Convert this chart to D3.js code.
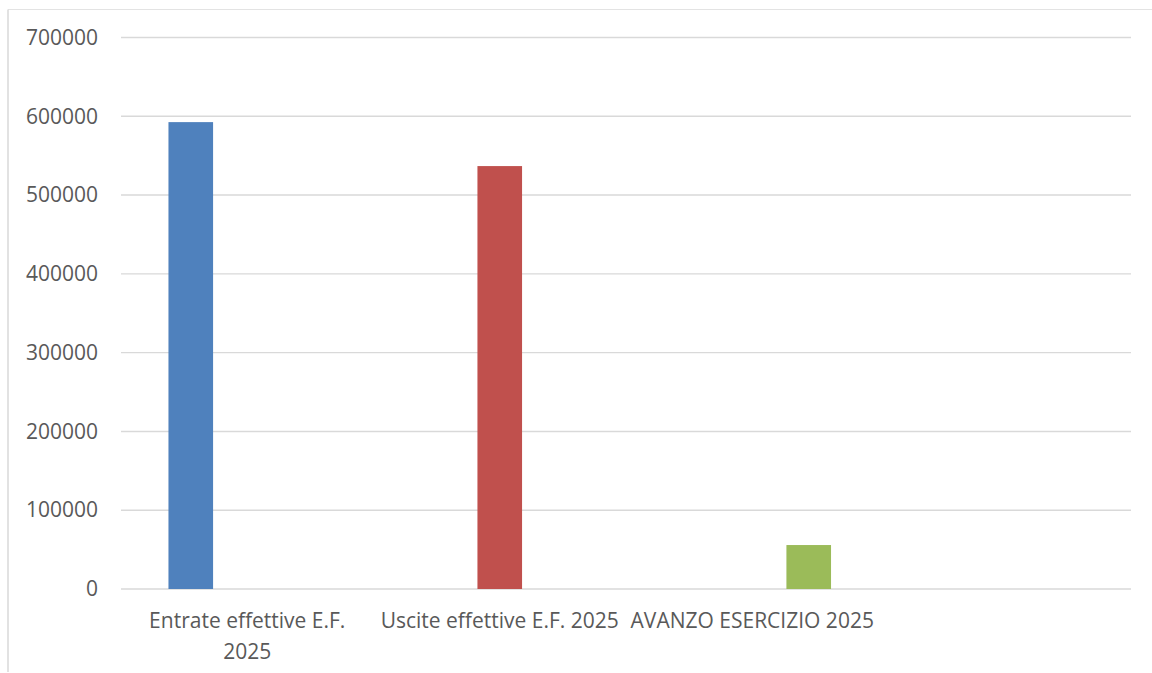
<!DOCTYPE html>
<html>
<head>
<meta charset="utf-8">
<script src="https://cdn.jsdelivr.net/npm/d3@7"></script>
<style>
  html, body { margin: 0; padding: 0; background: #fff; }
  svg { display: block; }
  text { font-family: "Open Sans", "Liberation Sans", Arial, sans-serif; fill: #595959; }
</style>
</head>
<body>
<svg id="chart" width="1152" height="673"></svg>
<script>
const categories = [
  ["Entrate effettive E.F.", "2025"],
  ["Uscite effettive E.F. 2025"],
  ["AVANZO ESERCIZIO 2025"],
  [""]
];
const seriesNames = ["Entrate", "Uscite", "Avanzo"];
const seriesColors = ["#4F81BD", "#C0504D", "#9BBB59"];
const entrateValues = [592600, null, null, null];
const usciteValues = [null, 536800, null, null];
const avanzoValues = [null, null, 55800, null];
const yTicks = [0, 100000, 200000, 300000, 400000, 500000, 600000, 700000];

const seriesValues = [entrateValues, usciteValues, avanzoValues];

const svg = d3.select("#chart");
const W = 1152, H = 673;
const plot = { left: 121, right: 1131, top: 37.5, bottom: 589 };
const FONT = "21px";

// chart frame
svg.append("line").attr("x1", 8).attr("x2", W).attr("y1", 9.5).attr("y2", 9.5)
  .attr("stroke", "#e3e3e3").attr("stroke-width", 1.2);
svg.append("line").attr("x1", 8).attr("x2", 8).attr("y1", 9.5).attr("y2", 672)
  .attr("stroke", "#d9d9d9").attr("stroke-width", 1.5);

const x0 = d3.scaleBand().domain(d3.range(categories.length))
  .range([plot.left, plot.right]).padding(0);
const groupW = x0.bandwidth() * 0.671;
const x1 = d3.scaleBand().domain(d3.range(seriesNames.length))
  .range([-groupW / 2, groupW / 2]).paddingInner(0.21).paddingOuter(0.105);
const y = d3.scaleLinear().domain([0, 700000]).range([plot.bottom, plot.top]);

// gridlines
svg.append("g").selectAll("line").data(yTicks).join("line")
  .attr("x1", plot.left).attr("x2", plot.right)
  .attr("y1", d => y(d)).attr("y2", d => y(d))
  .attr("stroke", "#d9d9d9").attr("stroke-width", 1.4);

// y axis labels
const yAxis = d3.axisLeft(y).tickValues(yTicks).tickSize(0).tickPadding(0)
  .tickFormat(d3.format("d"));
const gy = svg.append("g").attr("transform", `translate(${98},0)`).call(yAxis);
gy.select(".domain").remove();
gy.selectAll("text").style("font-size", FONT).attr("fill", "#595959")
  .attr("font-family", "Open Sans, Liberation Sans, Arial, sans-serif");

// bars
seriesValues.forEach((vals, s) => {
  svg.append("g").selectAll("rect")
    .data(vals.map((v, i) => ({ v, i })).filter(d => d.v != null))
    .join("rect")
    .attr("x", d => x0(d.i) + x0.bandwidth() / 2 + x1(s))
    .attr("width", x1.bandwidth())
    .attr("y", d => y(d.v))
    .attr("height", d => y(0) - y(d.v))
    .attr("fill", seriesColors[s]);
});

// category labels
const gx = svg.append("g");
categories.forEach((lines, i) => {
  const cx = x0(i) + x0.bandwidth() / 2;
  const t = gx.append("text")
    .attr("text-anchor", "middle")
    .style("font-size", FONT)
    .attr("x", cx)
    .attr("y", 628);
  lines.forEach((ln, j) => {
    t.append("tspan").attr("x", cx)
      .attr("dy", j === 0 ? 0 : 31).text(ln);
  });
});
</script>
</body>
</html>
